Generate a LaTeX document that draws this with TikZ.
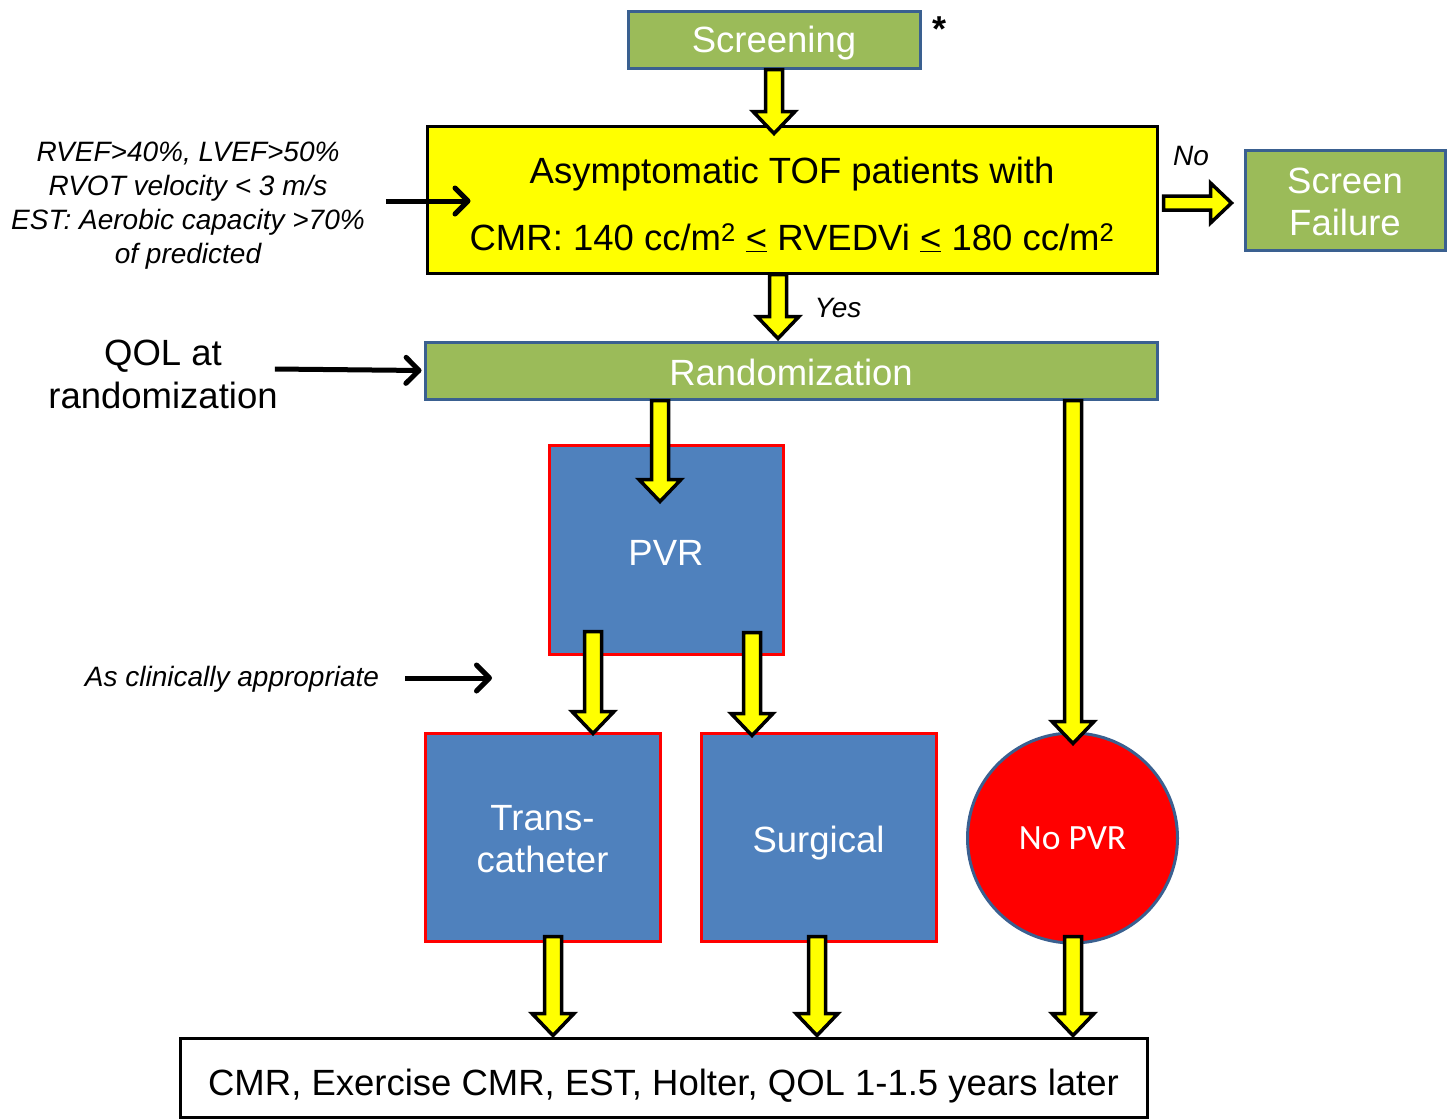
\documentclass[tikz,border=0pt]{standalone}
\usepackage{fontspec}
\setmainfont{Liberation Sans}
\newfontfamily\calibfont{Carlito}
\usetikzlibrary{arrows.meta,calc,shapes.geometric}
\definecolor{pgreen}{HTML}{9BBB59}
\definecolor{pblue}{HTML}{4F81BD}
\definecolor{pline}{HTML}{3A6090}
\definecolor{pyellow}{HTML}{FFFF00}
\definecolor{pred}{HTML}{FF0000}
\tikzset{
  greenbox/.style={draw=pline, fill=pgreen, line width=3pt, inner sep=0pt},
  bluebox/.style={draw=pred, fill=pblue, line width=3pt, inner sep=0pt, minimum width=235pt, minimum height=208pt},
  yellowbox/.style={draw=black, fill=pyellow, line width=3pt, inner sep=0pt},
  wtext/.style={text=white, inner sep=0pt, align=center, font=\fontsize{36.5}{42}\selectfont},
  btext/.style={text=black, inner sep=0pt, align=center, font=\fontsize{36.5}{67}\selectfont},
  sidenote/.style={inner sep=0pt, align=center, font=\fontsize{28}{34}\selectfont\itshape},
  blockarrow/.style={draw=black, fill=pyellow, line width=3.5pt, line join=miter},
  thinarrow/.style={draw=black, line width=5pt, -{Straight Barb[length=13pt,width=26pt,line width=5pt,round]}}
}
\newcommand{\vblock}[2]{\path[blockarrow] let \p1=(#1), \p2=(#2) in
  (\x1-8.5pt,\y1) -- (\x1-8.5pt,\y2+22pt) -- (\x1-21pt,\y2+22pt) -- (\x1,\y2)
  -- (\x1+21pt,\y2+22pt) -- (\x1+8.5pt,\y2+22pt) -- (\x1+8.5pt,\y1) -- cycle;}
\newcommand{\hblock}[2]{\path[blockarrow] let \p1=(#1), \p2=(#2) in
  (\x1,\y1+7pt) -- (\x2-21pt,\y1+7pt) -- (\x2-21pt,\y1+20pt) -- (\x2,\y1)
  -- (\x2-21pt,\y1-20pt) -- (\x2-21pt,\y1-7pt) -- (\x1,\y1-7pt) -- cycle;}
\begin{document}
\begin{tikzpicture}[x=1pt,y=-1pt]
\useasboundingbox (0,0) rectangle (1455,1119);
\fill[white] (0,0) rectangle (1455,1119);

% boxes
\node[greenbox, minimum width=292pt, minimum height=57pt] (screen) at (774,39.5) {};
\node[wtext] (screenT) at ($(screen)+(0,4)$) {Screening};
\node[inner sep=0pt, font=\fontsize{36}{36}\selectfont\bfseries] (star) at (939,29) {*};
\node[yellowbox, minimum width=730pt, minimum height=147pt] (yellow) at (792,199.5) {};
\node[btext] (yellowT) at ($(yellow)+(0,5)$)
  {Asymptomatic TOF patients with\\
   CMR: 140 cc/m\textsuperscript{2} \underline{<} RVEDVi \underline{<} 180 cc/m\textsuperscript{2}};
\node[greenbox, minimum width=200pt, minimum height=100pt] (sf) at (1345,200) {};
\node[wtext] (sfT) at ($(sf)+(0,2)$) {Screen\\Failure};
\node[sidenote] (crit) at (188,205.5) {RVEF>40\%, LVEF>50\%\\RVOT velocity < 3 m/s\\EST: Aerobic capacity >70\%\\of predicted};
\node[sidenote] (no) at (1191,156) {No};
\node[sidenote] (yes) at (838,307.5) {Yes};
\node[greenbox, minimum width=732pt, minimum height=57pt] (rand) at (791,370.5) {};
\node[wtext] (randT) at ($(rand)+(0,1.5)$) {Randomization};
\node[inner sep=0pt, align=center, font=\fontsize{36.5}{43}\selectfont] (qol) at (163,374) {QOL at\\randomization};
\node[bluebox, minimum width=234pt, minimum height=209pt] (pvr) at (666,549.5) {};
\node[wtext] (pvrT) at ($(pvr)+(0,3)$) {PVR};
\node[sidenote] (asclin) at (232,679) {As clinically appropriate};
\coordinate (acend) at (492,678);
\node[bluebox] (trans) at (542.5,837) {};
\node[wtext] (transT) at ($(trans)+(0,2.5)$) {Trans-\\catheter};
\node[bluebox] (surg) at (818.5,837) {};
\node[wtext] (surgT) at ($(surg)+(0,6)$) {Surgical};
\node[circle, draw=pline, fill=pred, line width=3pt, minimum size=210pt, inner sep=0pt, text=white,
  font=\calibfont\fontsize{35.5}{40}\selectfont] (nopvr) at (1072.5,838) {No PVR};
\node[draw=black, line width=3pt, minimum width=967pt, minimum height=79pt, inner sep=0pt] (bottom) at (663.5,1077.5) {};
\node[inner sep=0pt, font=\fontsize{36.5}{42}\selectfont] (bottomT) at ($(bottom)+(0,9)$) {CMR, Exercise CMR, EST, Holter, QOL 1-1.5 years later};

% thin black arrows
\draw[thinarrow] ($(crit.east)+(21,-4.5)$) -- ($(yellow.west)+(45,1.5)$);
\draw[thinarrow] ($(qol.east)+(-3,-5)$) -- ($(rand.west)+(-2,0)$);
\draw[thinarrow] ($(asclin.east)+(26,-1)$) -- (acend);

% block arrows
\vblock{screen.south}{$(screen.south |- yellow.north)+(0,9)$}
\hblock{$(yellow.east)+(5,3.5)$}{$(sf.west)+(-12,0)$}
\vblock{$(yellow.south)+(-14,0)$}{$(rand.north)+(-13,-2)$}
\vblock{$(rand.south -| pvr.north)+(-6,0)$}{$(pvr.north)+(-6,58)$}
\vblock{$(rand.south -| nopvr.north)+(0.5,0)$}{$(nopvr.north)+(0,12)$}
\vblock{$(pvr.south -| trans.north)+(50.5,-24)$}{$(trans.north)+(50.5,2)$}
\vblock{$(pvr.south -| surg.north)+(-66.5,-23)$}{$(surg.north)+(-66.5,4)$}
\vblock{$(trans.south)+(10.5,-6)$}{$(trans.south |- bottom.north)+(10.5,-1)$}
\vblock{$(surg.south)+(-1.5,-6)$}{$(surg.south |- bottom.north)+(-1.5,-1)$}
\vblock{$(nopvr.south)+(0.5,-8)$}{$(nopvr.south |- bottom.north)+(0.5,-1)$}
\end{tikzpicture}
\end{document}
